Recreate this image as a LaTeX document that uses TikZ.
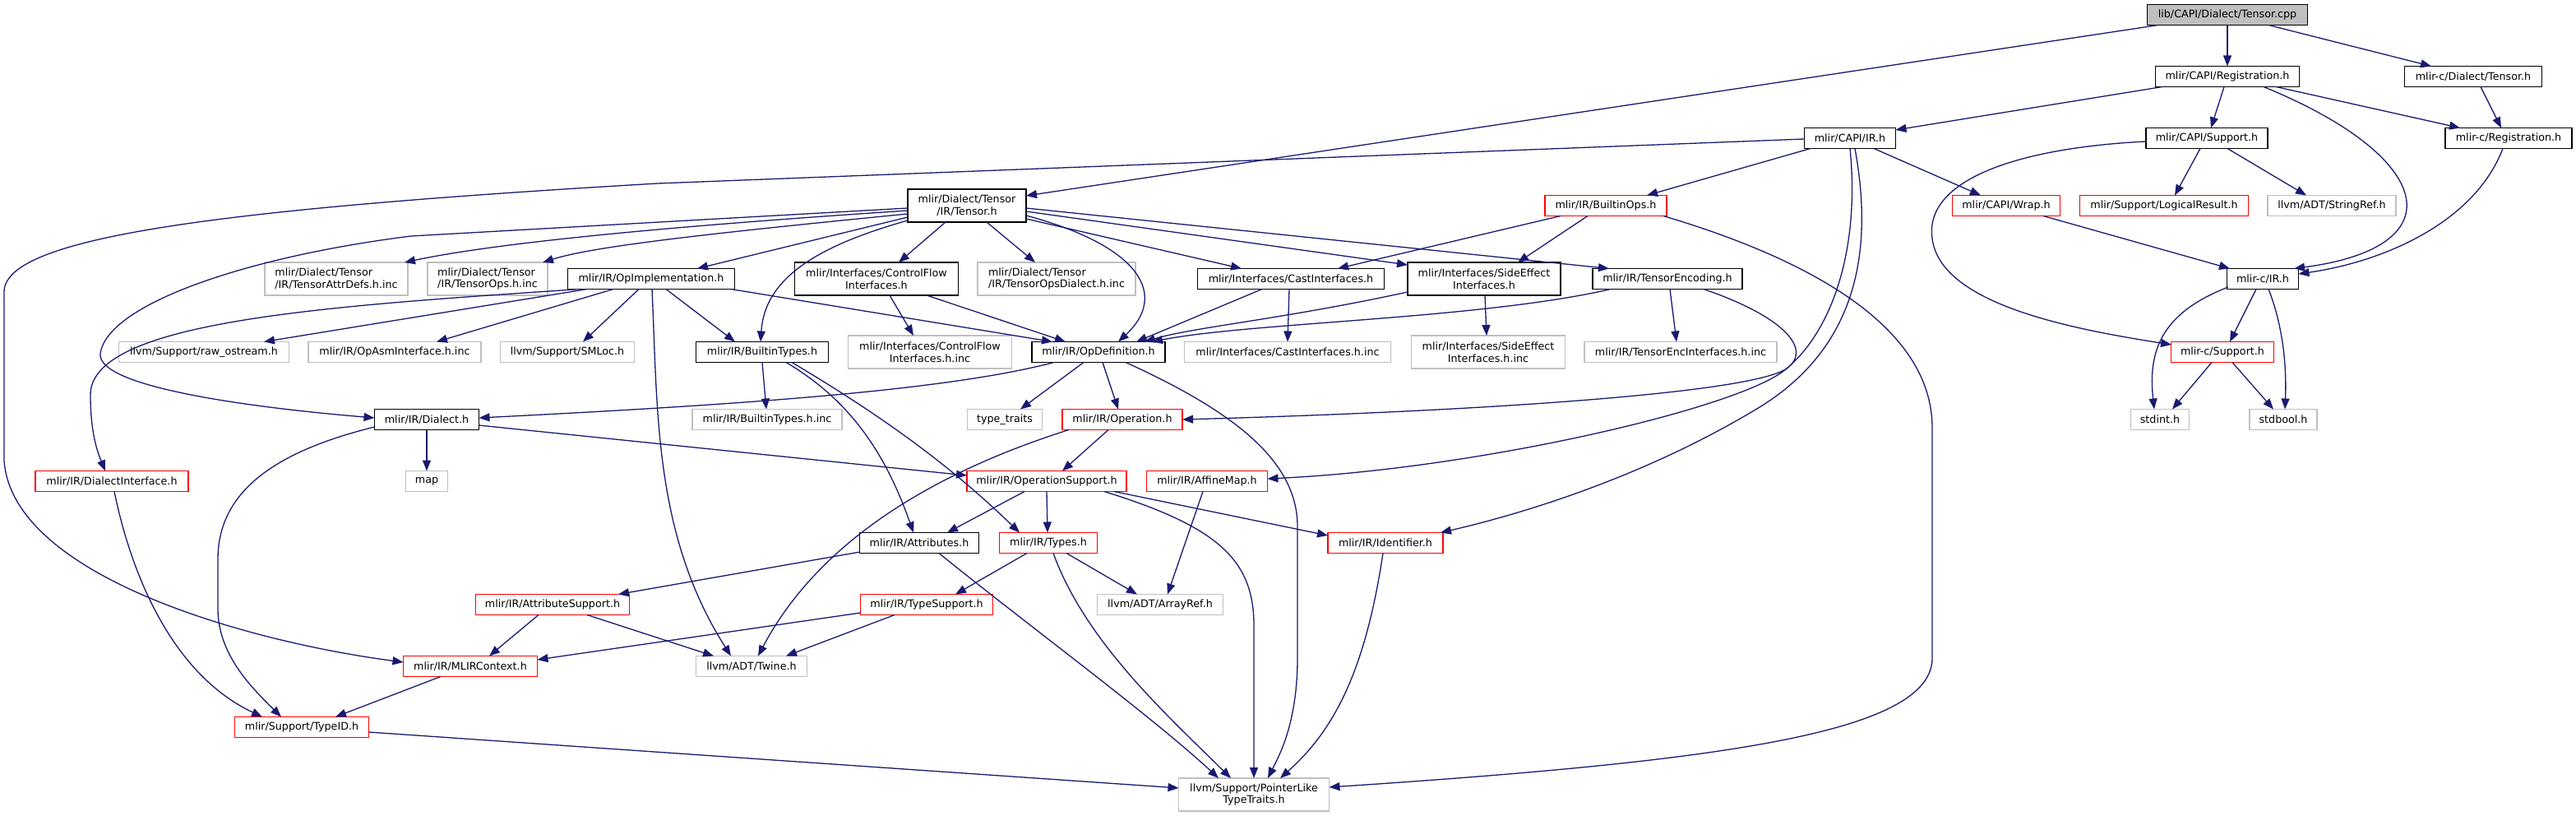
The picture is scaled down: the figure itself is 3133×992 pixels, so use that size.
\documentclass[tikz,border=0pt]{standalone}
\usepackage{fontspec}
\setmainfont{DejaVu Sans}
\usetikzlibrary{arrows.meta}
\definecolor{edgec}{HTML}{191970}
\definecolor{grayb}{HTML}{BFBFBF}
\definecolor{redb}{HTML}{FF0000}
\begin{document}
\begin{tikzpicture}[x=1pt,y=-1pt,
  base/.style={rectangle, inner sep=0pt, minimum height=25pt, line width=1.6pt, fill=white,
    font=\fontsize{12.7}{14.7}\selectfont, text=black},
  blk/.style={base, draw=black},
  rnode/.style={base, draw=redb},
  gnode/.style={base, draw=grayb},
  two/.style={minimum height=40pt, align=center},
  twol/.style={minimum height=40pt, align=left},
  dep/.style={draw=edgec, line width=1.3pt, -{Triangle[length=13pt,width=10pt]}},
]
\useasboundingbox (0,0) rectangle (3133,992);
% rank 0-3
\node[blk, fill=grayb, minimum width=195pt] (cpp) at (2709,18) {lib/CAPI/Dialect/Tensor.cpp};
\node[blk, minimum width=175pt] (creg) at (2709,93) {mlir/CAPI/Registration.h};
\node[blk, minimum width=167pt] (mctensor) at (3008,93) {mlir-c/Dialect/Tensor.h};
\node[blk, minimum width=111pt] (cir) at (2250,168) {mlir/CAPI/IR.h};
\node[blk, minimum width=148pt] (csup) at (2684,168) {mlir/CAPI/Support.h};
\node[blk, minimum width=154pt] (mcreg) at (3051,168) {mlir-c/Registration.h};
\node[blk, two, minimum width=144pt] (dt) at (1176,250) {mlir/Dialect/Tensor\\/IR/Tensor.h};
\node[rnode, minimum width=148pt] (bops) at (1953,250) {mlir/IR/BuiltinOps.h};
\node[rnode, minimum width=131pt] (wrap) at (2440,250) {mlir/CAPI/Wrap.h};
\node[rnode, minimum width=205pt] (lres) at (2632,250) {mlir/Support/LogicalResult.h};
\node[gnode, minimum width=156pt] (sref) at (2836,250) {llvm/ADT/StringRef.h};
% rank 4
\node[gnode, twol, minimum width=174pt] (attrinc) at (409,339) {mlir/Dialect/Tensor\\/IR/TensorAttrDefs.h.inc};
\node[gnode, twol, minimum width=146pt] (opsinc) at (593,339) {mlir/Dialect/Tensor\\/IR/TensorOps.h.inc};
\node[blk, minimum width=203pt] (opimpl) at (792,339) {mlir/IR/OpImplementation.h};
\node[blk, two, minimum width=199pt] (cfi) at (1066,339) {mlir/Interfaces/ControlFlow\\Interfaces.h};
\node[gnode, twol, minimum width=192pt] (dialinc) at (1285,339) {mlir/Dialect/Tensor\\/IR/TensorOpsDialect.h.inc};
\node[blk, minimum width=227pt] (casti) at (1570,339) {mlir/Interfaces/CastInterfaces.h};
\node[blk, two, minimum width=186pt] (sei) at (1805,339) {mlir/Interfaces/SideEffect\\Interfaces.h};
\node[blk, minimum width=182pt] (tenc) at (2028,339) {mlir/IR/TensorEncoding.h};
\node[blk, minimum width=87pt] (mcir) at (2752,339) {mlir-c/IR.h};
% rank 5
\node[gnode, minimum width=207pt] (rawos) at (248,428) {llvm/Support/raw\_ostream.h};
\node[gnode, minimum width=210pt] (asminc) at (480,428) {mlir/IR/OpAsmInterface.h.inc};
\node[gnode, minimum width=163pt] (smloc) at (690,428) {llvm/Support/SMLoc.h};
\node[blk, minimum width=161pt] (btypes) at (927,428) {mlir/IR/BuiltinTypes.h};
\node[gnode, two, minimum width=199pt] (cfiinc) at (1131,428) {mlir/Interfaces/ControlFlow\\Interfaces.h.inc};
\node[blk, minimum width=162pt] (opdef) at (1336,428) {mlir/IR/OpDefinition.h};
\node[gnode, minimum width=251pt] (castinc) at (1566,428) {mlir/Interfaces/CastInterfaces.h.inc};
\node[gnode, two, minimum width=187pt] (seiinc) at (1810,428) {mlir/Interfaces/SideEffect\\Interfaces.h.inc};
\node[gnode, minimum width=234pt] (tencinc) at (2044,428) {mlir/IR/TensorEncInterfaces.h.inc};
\node[rnode, minimum width=125pt] (mcsup) at (2703,428) {mlir-c/Support.h};
% rank 6
\node[blk, minimum width=127pt] (dialect) at (519,510) {mlir/IR/Dialect.h};
\node[gnode, minimum width=182pt] (btinc) at (933,510) {mlir/IR/BuiltinTypes.h.inc};
\node[gnode, minimum width=91pt] (ttraits) at (1222,510) {type\_traits};
\node[rnode, minimum width=146pt] (operation) at (1365,510) {mlir/IR/Operation.h};
\node[gnode, minimum width=71pt] (stdint) at (2627,510) {stdint.h};
\node[gnode, minimum width=82pt] (stdbool) at (2777,510) {stdbool.h};
% rank 7
\node[rnode, minimum width=186pt] (diface) at (136,585) {mlir/IR/DialectInterface.h};
\node[gnode, minimum width=51pt] (map) at (519,585) {map};
\node[rnode, minimum width=194pt] (opsup) at (1273,585) {mlir/IR/OperationSupport.h};
\node[rnode, minimum width=147pt] (amap) at (1468,585) {mlir/IR/AffineMap.h};
% rank 8
\node[blk, minimum width=145pt] (attrs) at (1118,660) {mlir/IR/Attributes.h};
\node[rnode, minimum width=119pt] (types) at (1275,660) {mlir/IR/Types.h};
\node[rnode, minimum width=140pt] (ident) at (1685,660) {mlir/IR/Identifier.h};
% rank 9
\node[rnode, minimum width=187pt] (attrsup) at (672,735) {mlir/IR/AttributeSupport.h};
\node[rnode, minimum width=161pt] (tsup) at (1127,735) {mlir/IR/TypeSupport.h};
\node[gnode, minimum width=153pt] (aref) at (1411,735) {llvm/ADT/ArrayRef.h};
% rank 10-12
\node[rnode, minimum width=163pt] (mlirctx) at (572,810) {mlir/IR/MLIRContext.h};
\node[gnode, minimum width=135pt] (twine) at (914,810) {llvm/ADT/Twine.h};
\node[rnode, minimum width=163pt] (typeid) at (367,884) {mlir/Support/TypeID.h};
\node[gnode, two, minimum width=183pt] (plike) at (1525,966) {llvm/Support/PointerLike\\TypeTraits.h};

% ---- edges ----
\draw[dep] ([shift={(0,12.5)}]cpp.center) -- ([shift={(0,-12.5)}]creg.center);
\draw[dep] ([shift={(50,12.5)}]cpp.center) -- ([shift={(-51,-12.5)}]mctensor.center);
\draw[dep] ([shift={(-84,12.5)}]cpp.center) -- ([shift={(72,-12)}]dt.center);
\draw[dep] ([shift={(-79,12.5)}]creg.center) -- ([shift={(55.5,-10)}]cir.center);
\draw[dep] ([shift={(-4,12.5)}]creg.center) -- ([shift={(5,-12.5)}]csup.center);
\draw[dep] ([shift={(59,12.5)}]creg.center) -- ([shift={(-59,-12.5)}]mcreg.center);
\draw[dep] ([shift={(44,12.5)}]creg.center) .. controls (2960,190) and (2990,300) .. ([shift={(38,-12.5)}]mcir.center);
\draw[dep] ([shift={(9,12.5)}]mctensor.center) -- ([shift={(-9,-12.5)}]mcreg.center);
\draw[dep] ([shift={(-7,12.5)}]mcreg.center) .. controls (3010,270) and (2900,318) .. ([shift={(43.5,-6)}]mcir.center);
\draw[dep] ([shift={(-48,12.5)}]cir.center) -- ([shift={(50,-12.5)}]bops.center);
\draw[dep] ([shift={(29,12.5)}]cir.center) -- ([shift={(-31,-12.5)}]wrap.center);
\draw[dep] ([shift={(-55.5,1)}]cir.center) -- (800,223) .. controls (250,255) and (5,290) .. (5,355) -- (5,560) .. controls (15,700) and (300,780) .. ([shift={(-81.5,-5)}]mlirctx.center);
\draw[dep] ([shift={(0,12.5)}]cir.center) .. controls (2262,300) and (2230,400) .. (2173,448) .. controls (2130,478) and (1800,500) .. ([shift={(73,0)}]operation.center);
\draw[dep] ([shift={(44,12.5)}]tenc.center) .. controls (2170,385) and (2205,425) .. (2173,448) .. controls (2120,495) and (1800,570) .. ([shift={(73.5,-3)}]amap.center);
\draw[dep] ([shift={(6,12.5)}]cir.center) .. controls (2278,300) and (2262,420) .. (2140,495) .. controls (2000,580) and (1850,625) .. ([shift={(67,-12.5)}]ident.center);
\draw[dep] ([shift={(70,12.5)}]bops.center) .. controls (2250,330) and (2350,420) .. (2350,520) -- (2350,800) .. controls (2350,890) and (2100,925) .. ([shift={(91.5,-9)}]plike.center);
\draw[dep] ([shift={(-55,12.5)}]bops.center) -- ([shift={(57,-12.5)}]casti.center);
\draw[dep] ([shift={(-22,12.5)}]bops.center) -- ([shift={(41,-20)}]sei.center);
% from Tensor.h
\draw[dep] ([shift={(-72,3)}]dt.center) -- (500,287) .. controls (300,312) and (130,370) .. (122,430) .. controls (118,470) and (300,495) .. ([shift={(-63.5,-2)}]dialect.center);
\draw[dep] ([shift={(-72,6)}]dt.center) .. controls (800,276) and (600,296) .. ([shift={(83,-20)}]attrinc.center);
\draw[dep] ([shift={(-72,10)}]dt.center) .. controls (850,285) and (720,300) .. ([shift={(67,-20)}]opsinc.center);
\draw[dep] ([shift={(-72,14)}]dt.center) -- ([shift={(56,-12.5)}]opimpl.center);
\draw[dep] ([shift={(-72,18)}]dt.center) .. controls (990,300) and (930,340) .. ([shift={(-2,-12.5)}]btypes.center);
\draw[dep] ([shift={(-26,20)}]dt.center) -- ([shift={(27,-20)}]cfi.center);
\draw[dep] ([shift={(24,20)}]dt.center) -- ([shift={(-26,-20)}]dialinc.center);
\draw[dep] ([shift={(72,12)}]dt.center) .. controls (1390,300) and (1420,360) .. ([shift={(24,-12.5)}]opdef.center);
\draw[dep] ([shift={(72,16)}]dt.center) -- ([shift={(-60,-12.5)}]casti.center);
\draw[dep] ([shift={(72,7)}]dt.center) -- ([shift={(-93,-17)}]sei.center);
\draw[dep] ([shift={(72,3)}]dt.center) -- ([shift={(-71,-12.5)}]tenc.center);
% from OpImplementation.h
\draw[dep] ([shift={(-78,12.5)}]opimpl.center) -- ([shift={(73,-12.5)}]rawos.center);
\draw[dep] ([shift={(-87,12.5)}]opimpl.center) .. controls (400,372) and (110,390) .. (110,480) .. controls (110,525) and (118,548) .. ([shift={(-8,-12.5)}]diface.center);
\draw[dep] ([shift={(-46,12.5)}]opimpl.center) -- ([shift={(51,-12.5)}]asminc.center);
\draw[dep] ([shift={(-15,12.5)}]opimpl.center) -- ([shift={(19,-12.5)}]smloc.center);
\draw[dep] ([shift={(18,12.5)}]opimpl.center) -- ([shift={(-33,-12.5)}]btypes.center);
\draw[dep] ([shift={(97,12.5)}]opimpl.center) -- ([shift={(-56,-12.5)}]opdef.center);
\draw[dep] ([shift={(1,12.5)}]opimpl.center) .. controls (800,500) and (795,650) .. ([shift={(-25,-12.5)}]twine.center);
% interfaces
\draw[dep] ([shift={(16,20)}]cfi.center) -- ([shift={(-20,-20)}]cfiinc.center);
\draw[dep] ([shift={(61,20)}]cfi.center) -- ([shift={(-40,-12.5)}]opdef.center);
\draw[dep] ([shift={(-35,12.5)}]casti.center) -- ([shift={(46,-12.5)}]opdef.center);
\draw[dep] ([shift={(-2,12.5)}]casti.center) -- ([shift={(0,-12.5)}]castinc.center);
\draw[dep] ([shift={(-93,16)}]sei.center) .. controls (1560,388) and (1450,398) .. ([shift={(56,-12.5)}]opdef.center);
\draw[dep] ([shift={(1,20)}]sei.center) -- ([shift={(-2,-20)}]seiinc.center);
\draw[dep] ([shift={(-69,12.5)}]tenc.center) .. controls (1800,388) and (1520,392) .. ([shift={(65,-12.5)}]opdef.center);
\draw[dep] ([shift={(3,12.5)}]tenc.center) -- ([shift={(-5,-12.5)}]tencinc.center);
% C API right side
\draw[dep] ([shift={(-8,12.5)}]mcir.center) -- ([shift={(9,-12.5)}]mcsup.center);
\draw[dep] ([shift={(-42,10)}]mcir.center) .. controls (2630,380) and (2612,425) .. ([shift={(-7,-12.5)}]stdint.center);
\draw[dep] ([shift={(7,12.5)}]mcir.center) .. controls (2778,400) and (2781,450) .. ([shift={(2,-12.5)}]stdbool.center);
\draw[dep] ([shift={(-13,12.5)}]mcsup.center) -- ([shift={(15,-12.5)}]stdint.center);
\draw[dep] ([shift={(12,12.5)}]mcsup.center) -- ([shift={(-12,-12.5)}]stdbool.center);
\draw[dep] ([shift={(-8,12.5)}]csup.center) -- ([shift={(13,-12.5)}]lres.center);
\draw[dep] ([shift={(25,12.5)}]csup.center) -- ([shift={(-31,-12.5)}]sref.center);
\draw[dep] ([shift={(-74,4)}]csup.center) .. controls (2450,180) and (2340,220) .. (2350,290) .. controls (2360,370) and (2520,400) .. ([shift={(-62,-9)}]mcsup.center);
\draw[dep] ([shift={(45,12.5)}]wrap.center) -- ([shift={(-40,-12.5)}]mcir.center);
% Dialect / OpDefinition
\draw[dep] ([shift={(0,12.5)}]dialect.center) -- ([shift={(0,-12.5)}]map.center);
\draw[dep] ([shift={(-63.5,9)}]dialect.center) .. controls (330,550) and (265,600) .. (265,680) -- (265,740) .. controls (265,795) and (305,835) .. ([shift={(-25,-12.5)}]typeid.center);
\draw[dep] ([shift={(63.5,7)}]dialect.center) -- ([shift={(-97,-7)}]opsup.center);
\draw[dep] ([shift={(-54,12.5)}]opdef.center) .. controls (1150,475) and (900,492) .. ([shift={(63.5,-2)}]dialect.center);
\draw[dep] ([shift={(-18,12.5)}]opdef.center) -- ([shift={(19,-12.5)}]ttraits.center);
\draw[dep] ([shift={(5,12.5)}]opdef.center) -- ([shift={(-5,-12.5)}]operation.center);
\draw[dep] ([shift={(33,12.5)}]opdef.center) .. controls (1500,500) and (1578,560) .. (1578,640) -- (1578,800) .. controls (1578,880) and (1555,920) .. ([shift={(17,-20)}]plike.center);
\draw[dep] ([shift={(0,12.5)}]btypes.center) -- ([shift={(-1,-12.5)}]btinc.center);
\draw[dep] ([shift={(29,12.5)}]btypes.center) .. controls (1040,490) and (1080,560) .. ([shift={(-7,-12.5)}]attrs.center);
\draw[dep] ([shift={(36,12.5)}]btypes.center) .. controls (1080,510) and (1160,570) .. ([shift={(-35,-12.5)}]types.center);
\draw[dep] ([shift={(-17,12.5)}]operation.center) -- ([shift={(19,-12.5)}]opsup.center);
\draw[dep] ([shift={(-65,12.5)}]operation.center) .. controls (1150,570) and (1000,650) .. ([shift={(8,-12.5)}]twine.center);
\draw[dep] ([shift={(3,12.5)}]diface.center) .. controls (160,700) and (210,820) .. ([shift={(-48,-12.5)}]typeid.center);
% lower part
\draw[dep] ([shift={(-27,12.5)}]opsup.center) -- ([shift={(34,-12.5)}]attrs.center);
\draw[dep] ([shift={(0,12.5)}]opsup.center) -- ([shift={(-1,-12.5)}]types.center);
\draw[dep] ([shift={(70,12.5)}]opsup.center) .. controls (1480,640) and (1525,680) .. (1525,760) -- ([shift={(0,-20)}]plike.center);
\draw[dep] ([shift={(82,12.5)}]opsup.center) -- ([shift={(-70,-9)}]ident.center);
\draw[dep] ([shift={(-5,12.5)}]amap.center) -- ([shift={(9,-12.5)}]aref.center);
\draw[dep] ([shift={(-72,11)}]attrs.center) -- ([shift={(80,-12.5)}]attrsup.center);
\draw[dep] ([shift={(24,12.5)}]attrs.center) .. controls (1250,760) and (1400,870) .. ([shift={(-43,-20)}]plike.center);
\draw[dep] ([shift={(-26,12.5)}]types.center) -- ([shift={(35,-12.5)}]tsup.center);
\draw[dep] ([shift={(22,12.5)}]types.center) -- ([shift={(-28,-12.5)}]aref.center);
\draw[dep] ([shift={(6,12.5)}]types.center) .. controls (1320,780) and (1420,870) .. ([shift={(-28,-20)}]plike.center);
\draw[dep] ([shift={(-3,12.5)}]ident.center) .. controls (1660,820) and (1620,890) .. ([shift={(32,-20)}]plike.center);
\draw[dep] ([shift={(-17,12.5)}]attrsup.center) -- ([shift={(23,-12.5)}]mlirctx.center);
\draw[dep] ([shift={(42,12.5)}]attrsup.center) -- ([shift={(-46,-12.5)}]twine.center);
\draw[dep] ([shift={(-80.5,10)}]tsup.center) -- ([shift={(81.5,-8)}]mlirctx.center);
\draw[dep] ([shift={(-39,12.5)}]tsup.center) -- ([shift={(42,-12.5)}]twine.center);
\draw[dep] ([shift={(-36,12.5)}]mlirctx.center) -- ([shift={(41,-12.5)}]typeid.center);
\draw[dep] ([shift={(81.5,6)}]typeid.center) -- ([shift={(-91.5,-8)}]plike.center);
\end{tikzpicture}
\end{document}
